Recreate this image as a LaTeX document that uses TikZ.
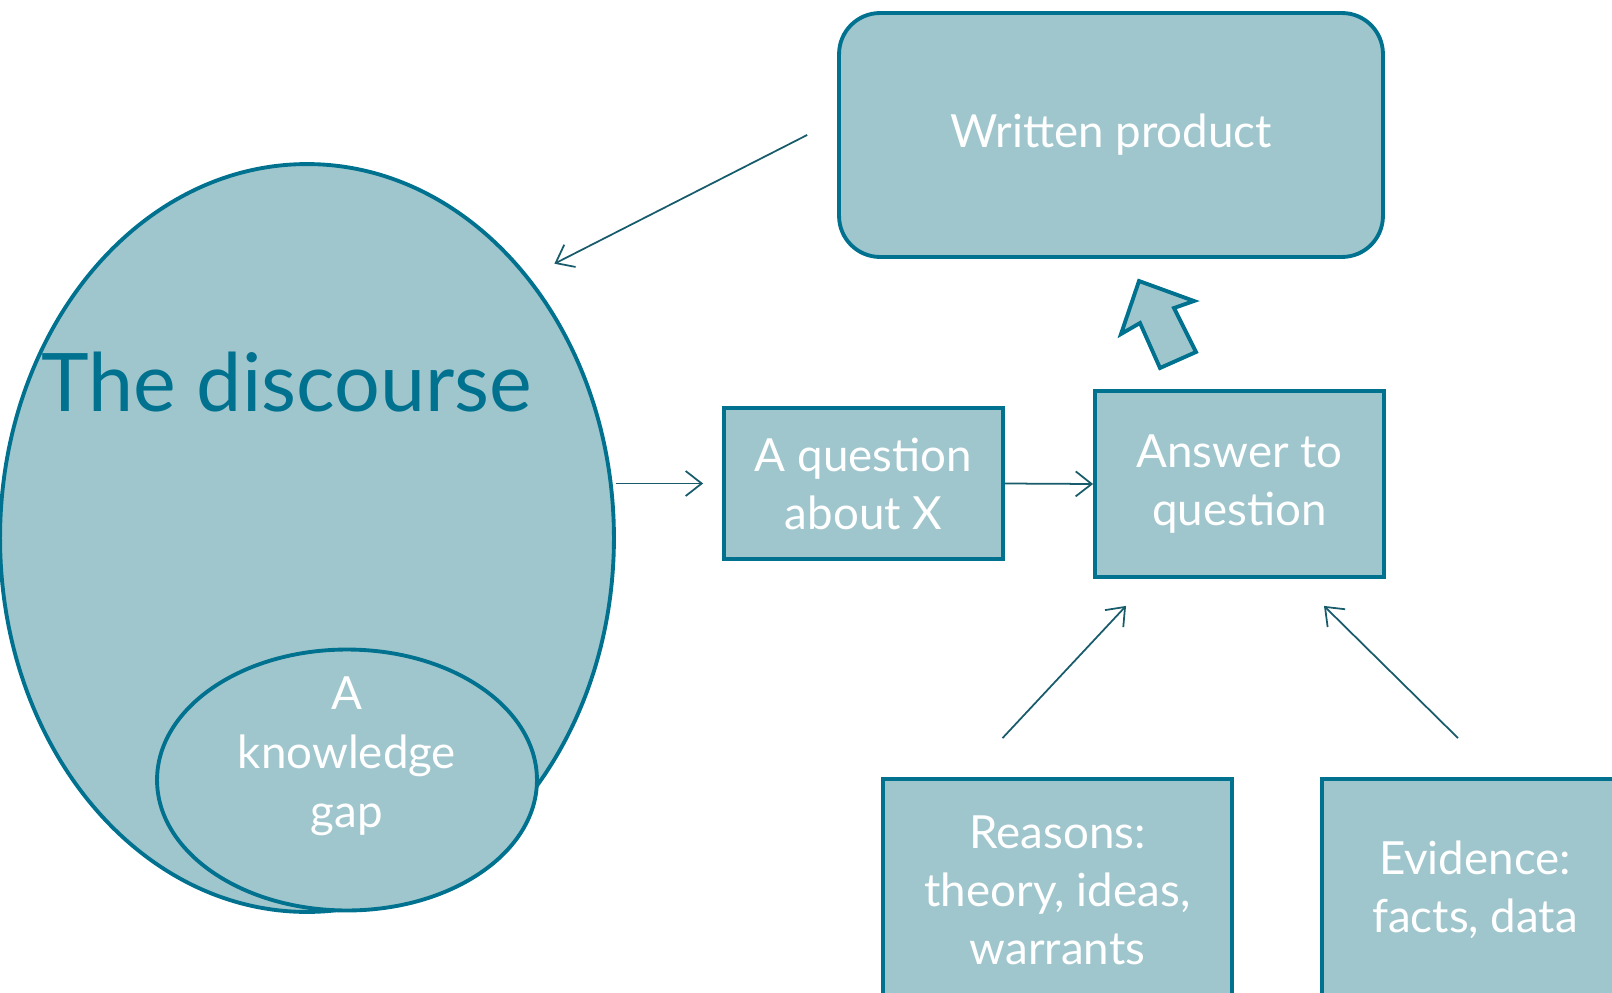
\documentclass[tikz,border=0pt]{standalone}
\usepackage{fontspec}
\setmainfont{Lato}
\usepackage{tikz}
\usetikzlibrary{positioning}
\usetikzlibrary{shapes.geometric}
\usetikzlibrary{arrows.meta}
\usepackage{xcolor}

\definecolor{tealfill}{RGB}{160,198,205}
\definecolor{tealline}{RGB}{0,114,143}
\definecolor{arrowline}{RGB}{24,92,108}

\newcommand{\boxfont}{\fontsize{26}{33}\selectfont}
\newcommand{\bigfont}{\fontsize{46}{50}\selectfont}

\begin{document}
\begin{tikzpicture}[
  x=0.02cm, y=-0.02cm,
  blob/.style={ellipse, draw=tealline, line width=2.2pt, fill=tealfill, inner sep=0pt},
  box/.style={draw=tealline, line width=2.2pt, fill=tealfill, text=white, align=center, font=\boxfont, inner sep=0pt},
  arrow/.style={-{Straight Barb[length=3.2mm, width=5mm]}, line width=1pt, draw=arrowline},
  fatarrow/.style={draw=tealline, line width=2.2pt, fill=tealfill, line join=miter}
]
\useasboundingbox (0,0) rectangle (1612,993);
\clip (0,0) rectangle (1612,993);

% The discourse and the gap inside it
\node[blob, minimum width=12.28cm, minimum height=14.96cm] (disc) at (307,538) {};
\node[blob, minimum width=7.6cm, minimum height=5.22cm] (gap) at (347,780) {};
\node[anchor=base west, inner sep=0pt, text=tealline, font=\bigfont] (disctext) at (41,411) {The discourse};
\node[align=center, text=white, font=\fontsize{26}{33.5}\selectfont] (gaptext) at (347,756) {A\\knowledge\\gap};

% Boxes
\node[box, rounded corners=0.82cm, minimum width=10.88cm, minimum height=4.88cm] (wp) at (1111,135) {Written product};
\node[box, minimum width=5.58cm, minimum height=3.02cm] (quest) at (863.5,483.5) {A question\\about X};
\node[box, minimum width=5.78cm, minimum height=3.72cm] (ans) at (1239.5,484) {Answer to\\question};
\node[box, minimum width=6.98cm, minimum height=4.44cm] (reasons) at (1057.5,890) {Reasons:\\theory, ideas,\\warrants};
\node[box, minimum width=6.12cm, minimum height=4.44cm] (evid) at (1475,890) {Evidence:\\facts, data};

% Block arrow up to the written product
\draw[fatarrow] (1139,281) -- (1194,301) -- (1174,308) -- (1196,352)
  -- (1160,368) -- (1140,323) -- (1121,334) -- cycle;

% Edges
\draw[arrow] ([xshift=-0.6cm]wp.west) -- ([xshift=0.58cm, yshift=0.17cm]disc.north east);
\draw[arrow] (disc.east |- quest.west) -- ([xshift=-0.38cm]quest.west);
\draw[arrow] (quest.east) -- (ans.west);
\draw[arrow] ([xshift=-1.1cm, yshift=0.78cm]reasons.north) -- ([xshift=-2.27cm, yshift=-0.54cm]ans.south);
\draw[arrow] ([xshift=-0.34cm, yshift=0.78cm]evid.north) -- ([xshift=1.69cm, yshift=-0.54cm]ans.south);

\end{tikzpicture}
\end{document}
